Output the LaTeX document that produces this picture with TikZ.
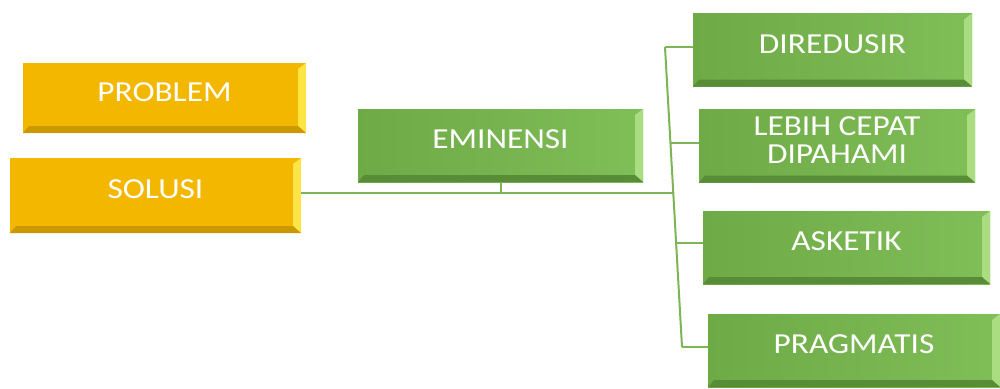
\documentclass[tikz,border=0pt]{standalone}
\usepackage{fontspec}
\usepackage{tikz}
\newfontfamily\hurufkotak[FakeStretch=1.15]{Carlito}

\definecolor{emas}{RGB}{243,183,0}
\definecolor{emasterang}{RGB}{255,228,70}
\definecolor{emasgelap}{RGB}{204,152,0}
\definecolor{hijau}{RGB}{110,170,70}
\definecolor{hijaumuda}{RGB}{128,190,88}
\definecolor{hijauterang}{RGB}{170,220,130}
\definecolor{hijaugelap}{RGB}{88,140,55}
\definecolor{garishijau}{RGB}{124,181,85}

% sisi miring kanan dan bawah
\newcommand\sisi[2]{%
    \fill[#1] (path picture bounding box.north east) -- ([shift={(-4pt,-3pt)}]path picture bounding box.north east)
        -- ([shift={(-4pt,3.5pt)}]path picture bounding box.south east) -- (path picture bounding box.south east) -- cycle;
    \fill[#2] (path picture bounding box.south west) -- ([shift={(3pt,3.5pt)}]path picture bounding box.south west)
        -- ([shift={(-4pt,3.5pt)}]path picture bounding box.south east) -- (path picture bounding box.south east) -- cycle;
}

\begin{document}
\begin{tikzpicture}[x=0.5pt, y=-0.5pt]
        \tikzstyle{every node} = [font=\hurufkotak\fontsize{14.5}{14}\selectfont, text=white]
        \tikzstyle{kotak}  = [inner sep=0pt, align=center, text depth=6pt]
        \tikzstyle{kuning} = [kotak, fill=emas, path picture={\sisi{emasterang}{emasgelap}}]
        \tikzstyle{hijaubox} = [kotak, left color=hijau, right color=hijaumuda, path picture={\sisi{hijauterang}{hijaugelap}}]
        \tikzstyle{garis}  = [draw=garishijau, line width=1pt]

        \useasboundingbox (0,0) rectangle (1000,388);

        \node[kuning, minimum width=141.5pt, minimum height=35pt] (problem) at (164.5,98) {PROBLEM};
        \node[kuning, minimum width=145.5pt, minimum height=37.5pt] (solusi) at (155.5,195.5) {SOLUSI};
        \node[hijaubox, minimum width=142.5pt, minimum height=36.5pt] (eminensi) at (500.5,145.5) {EMINENSI};

        \foreach[count=\c] \teks/\xx/\yy/\ww in {DIREDUSIR/832.5/50/139.5, {LEBIH CEPAT\\DIPAHAMI}/837/146/138,
                ASKETIK/846.5/247.5/143.5, PRAGMATIS/854/350.5/146}
            \node[hijaubox, minimum width=\ww pt, minimum height=36.5pt] (hasil\c) at (\xx,\yy) {\teks};

        \coordinate (t1) at (665,47);
        \coordinate (t2) at (670.4,143);
        \coordinate (t3) at (676,243);
        \coordinate (t4) at (682,347);
        \coordinate (hub) at (673,193);

        \draw[garis] (t1) -- (t4);
        \foreach \c in {1,...,4}
            \draw[garis] (t\c) -- (t\c -| hasil\c.west);
        \draw[garis] (solusi.east |- hub) -- (hub);
        \draw[garis] (eminensi.south) -- (eminensi.south |- hub);
    \end{tikzpicture}
\end{document}
